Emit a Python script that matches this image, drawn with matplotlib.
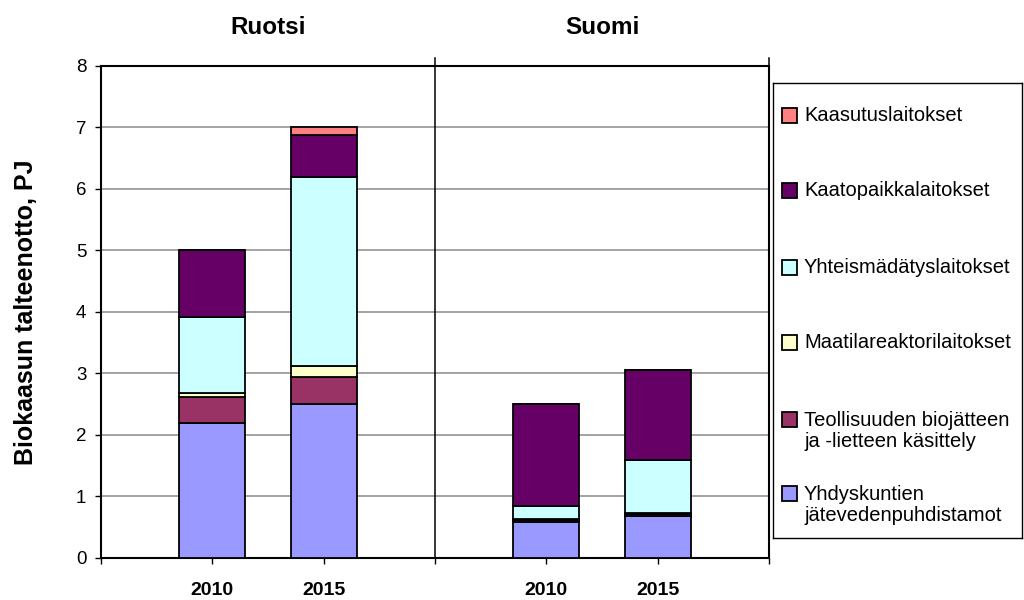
import matplotlib
matplotlib.use("Agg")
import matplotlib.pyplot as plt
from matplotlib.patches import Rectangle
import matplotlib.transforms as mtransforms

plt.rcParams['font.family'] = ['Liberation Sans', 'DejaVu Sans']

# ---- data ----
groups = ['Ruotsi', 'Suomi']
years = ['2010', '2015', '2010', '2015']
series_names = [
    'Yhdyskuntien\njätevedenpuhdistamot',
    'Teollisuuden biojätteen\nja -lietteen käsittely',
    'Maatilareaktorilaitokset',
    'Yhteismädätyslaitokset',
    'Kaatopaikkalaitokset',
    'Kaasutuslaitokset',
]
yhdyskuntien = [2.20, 2.50, 0.59, 0.68]
teollisuuden = [0.42, 0.44, 0.03, 0.03]
maatila = [0.06, 0.18, 0.02, 0.02]
yhteismadatys = [1.24, 3.07, 0.21, 0.87]
kaatopaikka = [1.08, 0.68, 1.65, 1.45]
kaasutus = [0.00, 0.13, 0.00, 0.00]
colors = ['#9999FF', '#993366', '#FFFFCC', '#CCFFFF', '#660066', '#FF8080']
yticks = [0, 1, 2, 3, 4, 5, 6, 7, 8]

series = [yhdyskuntien, teollisuuden, maatila, yhteismadatys, kaatopaikka, kaasutus]

W, H = 1024, 600
fig = plt.figure(figsize=(W / 100, H / 100), dpi=100)
L, R, T, B = 101, 769, 65.7, 558
ax = fig.add_axes([L / W, 1 - B / H, (R - L) / W, (B - T) / H])

xpos = [1, 2, 4, 5]
bottoms = [0.0] * 4
for vals, c in zip(series, colors):
    ax.bar(xpos, vals, width=0.59, bottom=bottoms, color=c,
           edgecolor='black', linewidth=1.3, zorder=3)
    bottoms = [b + v for b, v in zip(bottoms, vals)]

ax.set_xlim(0, 6)
ax.set_ylim(0, 8)
ax.set_yticks(yticks)
ax.set_yticklabels([str(v) for v in yticks], fontsize=13.5)
for y in yticks[1:-1]:
    ax.axhline(y, color='#8c8c8c', lw=1.1, zorder=1)

ax.set_xticks([0, 1, 2, 3, 4, 5, 6])
ax.set_xticklabels(['', years[0], years[1], '', years[2], years[3], ''],
                   fontsize=14, fontweight='bold')
ax.tick_params(axis='x', length=4.5, width=1, direction='out', pad=13)
ax.tick_params(axis='y', length=4.5, width=1, direction='out', pad=6)

for s in ax.spines.values():
    s.set_linewidth(1.5)
    s.set_color('black')

# divider between groups
ax.plot([3, 3], [0, 8.13], color='black', lw=1.1, clip_on=False, zorder=4)
ax.plot([6, 6], [8, 8.13], color='black', lw=1.1, clip_on=False, zorder=4)

ax.set_ylabel('Biokaasun talteenotto, PJ', fontsize=18, fontweight='bold',
              labelpad=27)

trans = mtransforms.blended_transform_factory(ax.transData, fig.transFigure)
ax.text(1.5, 1 - 27 / H, groups[0], transform=trans, ha='center', va='center',
        fontsize=17.5, fontweight='bold')
ax.text(4.5, 1 - 27 / H, groups[1], transform=trans, ha='center', va='center',
        fontsize=17.5, fontweight='bold')

# ---- legend (manual, Excel style) ----
lx0, lx1, ly0, ly1 = 773, 1022, 83, 538
lax = fig.add_axes([lx0 / W, 1 - ly1 / H, (lx1 - lx0) / W, (ly1 - ly0) / H])
lax.set_xlim(lx0, lx1)
lax.set_ylim(ly1, ly0)
lax.set_xticks([])
lax.set_yticks([])
for s in lax.spines.values():
    s.set_linewidth(1.0)
    s.set_color('black')
entry_y = [505, 431, 342, 267, 190, 115]  # text centres, bottom series first
for name, c, yc in zip(series_names, colors, entry_y):
    nlines = name.count('\n') + 1
    ytop = yc - (nlines - 1) * 11.5
    lax.add_patch(Rectangle((782, ytop - 7.5), 15, 15, facecolor=c,
                            edgecolor='black', lw=1.3))
    lax.text(804, yc, name, ha='left', va='center', fontsize=14.5,
             linespacing=1.1)

fig.savefig('out.png', dpi=100)
